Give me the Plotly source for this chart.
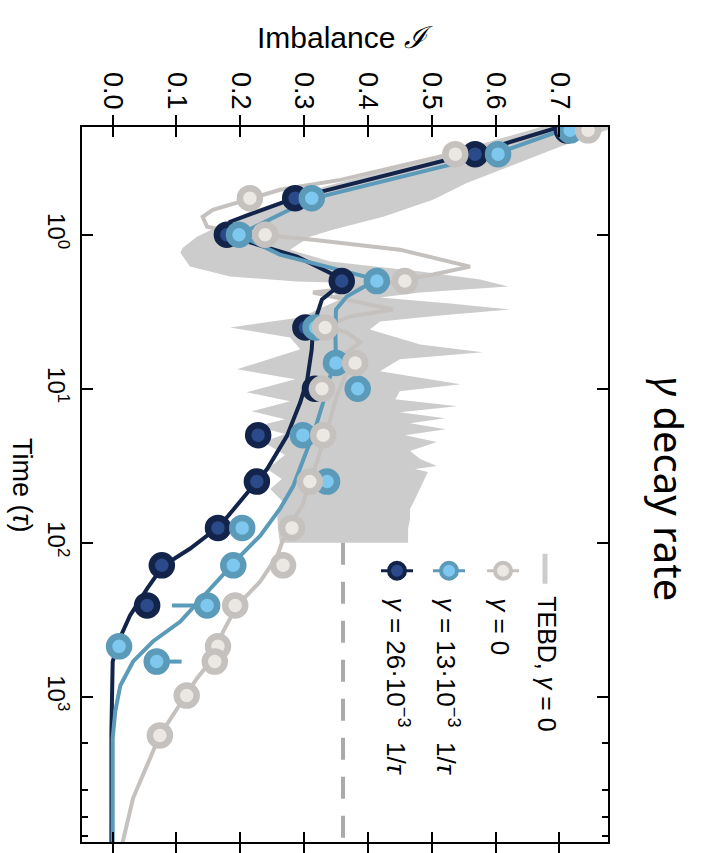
import plotly.graph_objects as go

# ---------------- data ----------------
# experimental points
gray_t = [0.21, 0.3, 0.58, 1.0, 2.0, 4.0, 6.8, 10, 20, 40, 80, 140, 255, 470, 590, 980, 1780]
gray_I = [0.745, 0.537, 0.215, 0.239, 0.458, 0.333, 0.380, 0.328, 0.330, 0.309, 0.281, 0.267, 0.192, 0.165, 0.160, 0.116, 0.074]

blue_t = [0.21, 0.3, 0.58, 1.0, 2.0, 4.0, 6.8, 10, 20, 40, 80, 140, 255, 470, 590]
blue_I = [0.717, 0.604, 0.312, 0.198, 0.414, 0.318, 0.350, 0.384, 0.298, 0.336, 0.203, 0.189, 0.148, 0.010, 0.069]
blue_err_plus = [0, 0, 0, 0, 0, 0, 0, 0, 0, 0, 0, 0, 0, 0, 0.039]
blue_err_minus = [0, 0, 0, 0, 0, 0, 0, 0, 0, 0, 0, 0, 0.055, 0, 0]

navy_t = [0.21, 0.3, 0.58, 1.0, 2.0, 4.0, 10, 20, 40, 80, 140, 255]
navy_I = [0.712, 0.568, 0.286, 0.179, 0.359, 0.302, 0.317, 0.228, 0.226, 0.165, 0.077, 0.054]

# model curves
navy_line_t = [0.2, 0.294, 0.585, 0.824, 1.0, 1.388, 1.87, 2.107, 2.634, 3.94, 5.55, 8.68, 12.23, 20.3,
               33.2, 57.6, 77.6, 109.3, 140.9, 198.6, 296.7, 418, 589, 978, 1672, 9000]
navy_line_I = [0.700, 0.568, 0.282, 0.184, 0.175, 0.289, 0.352, 0.357, 0.328, 0.314, 0.312, 0.305, 0.294, 0.273,
               0.242, 0.195, 0.168, 0.121, 0.079, 0.054, 0.027, 0.011, 0.0, -0.001, -0.002, -0.002]

blue_line_t = [0.2, 0.2945, 0.585, 1.0, 1.347, 1.762, 1.956, 2.52, 3.06, 4.31, 6.74, 9.08, 12.23, 18.3, 29.9,
               42.8, 60.3, 90.1, 121.4, 207.5, 324.6, 437, 589, 843, 1242, 1857, 9000]
blue_line_I = [0.718, 0.604, 0.312, 0.198, 0.262, 0.372, 0.414, 0.367, 0.350, 0.349, 0.350, 0.337, 0.330, 0.317, 0.298,
               0.283, 0.262, 0.231, 0.200, 0.148, 0.106, 0.063, 0.032, 0.012, 0.004, 0.0, 0.0]

gray_line_t = [0.2, 0.2945, 0.4406, 0.511, 0.585, 0.689, 0.765, 0.888, 0.956, 1.0, 1.077, 1.251, 1.611, 1.815,
               1.956, 2.17, 2.373, 3.06, 3.395, 3.94, 4.31, 5.0, 5.80, 6.74, 7.82, 11.18, 15.75, 20.3, 29.9,
               40.3, 57.6, 81.2, 121.4, 178.8, 255.7, 376.8, 563, 759, 1135, 1775, 2775, 4538, 9000]
gray_line_I = [0.745, 0.537, 0.357, 0.262, 0.215, 0.157, 0.141, 0.148, 0.184, 0.239, 0.314, 0.450, 0.560, 0.502,
               0.458, 0.398, 0.314, 0.439, 0.372, 0.333, 0.367, 0.388, 0.367, 0.380, 0.367, 0.351, 0.341, 0.333, 0.320,
               0.309, 0.297, 0.273, 0.258, 0.231, 0.195, 0.173, 0.157, 0.132, 0.105, 0.074, 0.054, 0.032, 0.015]

# TEBD (gamma = 0) band: upper and lower envelope
tebd_up_t = [0.19, 0.209, 0.269, 0.352, 0.461, 0.593, 0.765, 0.928, 1.030, 1.251, 1.495, 1.736, 1.956, 2.171,
             2.373, 2.557, 2.797, 3.058, 3.344, 3.657, 4.121, 5.152, 5.804, 6.444, 7.704, 9.352, 10.38, 11.70,
             12.98, 14.20, 15.52, 16.72, 18.29, 20.00, 22.20, 25.39, 28.60, 31.74, 33.19, 34.71, 38.53, 44.73,
             51.90, 60.26, 69.95, 81.18, 94.21, 100.0]
tebd_up_I = [0.80, 0.775, 0.701, 0.628, 0.555, 0.502, 0.424, 0.345, 0.309, 0.278, 0.341, 0.482, 0.576, 0.620,
             0.482, 0.419, 0.529, 0.623, 0.513, 0.419, 0.403, 0.482, 0.580, 0.450, 0.419, 0.545, 0.450, 0.443,
             0.540, 0.450, 0.521, 0.466, 0.522, 0.458, 0.508, 0.466, 0.482, 0.508, 0.474, 0.494, 0.489, 0.482,
             0.474, 0.466, 0.466, 0.463, 0.463, 0.463]
tebd_lo_t = [0.19, 0.282, 0.391, 0.511, 0.720, 1.030, 1.214, 1.307, 1.611, 1.870, 2.015, 2.045, 2.270, 2.634,
             3.445, 4.000, 4.642, 5.551, 7.478, 8.680, 10.54, 12.05, 13.99, 15.75, 17.49, 19.70, 22.20, 26.94,
             33.19, 38.53, 44.73, 55.92, 66.88, 81.18, 100.0]
tebd_lo_I = [0.69, 0.545, 0.419, 0.314, 0.210, 0.132, 0.110, 0.106, 0.121, 0.184, 0.289, 0.345, 0.341, 0.356,
             0.294, 0.184, 0.278, 0.294, 0.195, 0.286, 0.210, 0.278, 0.218, 0.270, 0.226, 0.270, 0.236, 0.270,
             0.242, 0.265, 0.247, 0.270, 0.258, 0.259, 0.262]

tebd_avg_I = 0.361
tebd_avg_t = [100, 9000]

x_ticks = [0.0, 0.1, 0.2, 0.3, 0.4, 0.5, 0.6, 0.7]
y_ticks = [1, 10, 100, 1000]
y_ticktext = ["10<sup>0</sup>", "10<sup>1</sup>", "10<sup>2</sup>", "10<sup>3</sup>"]

# ---------------- styles ----------------
C_NAVY_LINE = "#13244a"
C_NAVY_FILL = "#2b4a8a"
C_BLUE_LINE = "#5b9ab8"
C_BLUE_FILL = "#7ec8ef"
C_GRAY_LINE = "#c5c1be"
C_GRAY_FILL = "#ebe7e3"
C_TEBD = "#cccccc"
C_DASH = "#aaaaaa"
FONT = "Liberation Sans, Arial, sans-serif"

fig = go.Figure()

# TEBD band
fig.add_trace(go.Scatter(
    x=tebd_up_I + tebd_lo_I[::-1], y=tebd_up_t + tebd_lo_t[::-1],
    mode="lines", fill="toself", fillcolor=C_TEBD, line=dict(width=0, color=C_TEBD),
    hoverinfo="skip", showlegend=False))

# TEBD long-time average
fig.add_trace(go.Scatter(
    x=[tebd_avg_I] * len(tebd_avg_t), y=tebd_avg_t, mode="lines",
    line=dict(color=C_DASH, width=4, dash="22px,17px"), showlegend=False))

# model curves
fig.add_trace(go.Scatter(x=gray_line_I, y=gray_line_t, mode="lines",
                         line=dict(color=C_GRAY_LINE, width=4), showlegend=False))
fig.add_trace(go.Scatter(x=navy_line_I, y=navy_line_t, mode="lines",
                         line=dict(color=C_NAVY_LINE, width=4), showlegend=False))
fig.add_trace(go.Scatter(x=blue_line_I, y=blue_line_t, mode="lines",
                         line=dict(color=C_BLUE_LINE, width=4), showlegend=False))

# experimental points
fig.add_trace(go.Scatter(x=navy_I, y=navy_t, mode="markers",
                         marker=dict(size=20, color=C_NAVY_FILL, line=dict(color=C_NAVY_LINE, width=6.5)),
                         showlegend=False))
fig.add_trace(go.Scatter(x=blue_I, y=blue_t, mode="markers",
                         error_x=dict(type="data", symmetric=False, array=blue_err_plus,
                                      arrayminus=blue_err_minus, color=C_BLUE_LINE, thickness=4, width=0),
                         marker=dict(size=20, color=C_BLUE_FILL, line=dict(color=C_BLUE_LINE, width=6.5)),
                         showlegend=False))
fig.add_trace(go.Scatter(x=gray_I, y=gray_t, mode="markers",
                         marker=dict(size=20, color=C_GRAY_FILL, line=dict(color=C_GRAY_LINE, width=6.5)),
                         showlegend=False))

# ---------------- layout ----------------
W, H = 714, 853
L, R, T, B = 82, 608, 127, 844


def px(xp):
    return (xp - L) / (R - L)


def py(yp):
    return (B - yp) / (B - T)


Y_RANGE = [3.942, -0.699]
fig.update_layout(
    width=W, height=H,
    margin=dict(l=L, r=W - R, t=T, b=H - B),
    paper_bgcolor="white", plot_bgcolor="white",
    font=dict(family=FONT, color="black"),
    xaxis=dict(side="top", range=[-0.0481, 0.7763], tickvals=x_ticks, tickformat=".1f",
               tickangle=90, ticks="inside", ticklen=10, tickwidth=2, tickcolor="black",
               showline=True, linecolor="black", linewidth=2, mirror="allticks",
               showgrid=False, zeroline=False, ticklabelstandoff=6,
               tickfont=dict(size=27, family=FONT)),
    yaxis=dict(type="log", range=Y_RANGE, tickvals=y_ticks, ticktext=y_ticktext,
               tickangle=90, ticks="inside", ticklen=11, tickwidth=2, tickcolor="black",
               minor=dict(ticks="inside", ticklen=6, tickwidth=1.5, tickcolor="black", showgrid=False),
               showline=True, linecolor="black", linewidth=2, mirror=True,
               showgrid=False, zeroline=False, ticklabelstandoff=3,
               tickfont=dict(size=24, family=FONT)),
    yaxis2=dict(type="log", range=Y_RANGE, overlaying="y", side="right", tickvals=y_ticks,
                showticklabels=False, ticks="inside", ticklen=11, tickwidth=2, tickcolor="black",
                minor=dict(ticks="inside", ticklen=6, tickwidth=1.5, tickcolor="black", showgrid=False),
                showline=False, showgrid=False, zeroline=False),
)
# invisible trace to activate the right-hand mirrored log axis
fig.add_trace(go.Scatter(x=[None], y=[None], yaxis="y2", showlegend=False, hoverinfo="skip"))

annotations = [
    dict(text="Imbalance <i>ℐ</i>", x=px(345), y=py(37), yanchor="middle", font=dict(size=30, family=FONT)),
    dict(text="Time (<i>τ</i>)", x=px(22), y=py(486), yanchor="middle", textangle=90,
         font=dict(size=27, family=FONT)),
    dict(text="<i>γ</i> decay rate", x=px(669), y=py(490), yanchor="middle", textangle=90,
         font=dict(size=40, family="Noto Sans, Open Sans, sans-serif")),
    dict(text="TEBD, <i>γ</i> = 0", x=px(547), y=py(595), yanchor="top", textangle=90,
         font=dict(size=25, family=FONT)),
    dict(text="<i>γ</i> = 0", x=px(500), y=py(597), yanchor="top", textangle=90,
         font=dict(size=26, family=FONT)),
    dict(text="<i>γ</i> = 13·10<sup>−3</sup>  1/<i>τ</i>", x=px(447), y=py(597), yanchor="top", textangle=90,
         font=dict(size=26, family=FONT)),
    dict(text="<i>γ</i> = 26·10<sup>−3</sup>  1/<i>τ</i>", x=px(397), y=py(597), yanchor="top", textangle=90,
         font=dict(size=26, family=FONT)),
]
for a in annotations:
    a.update(xref="paper", yref="paper", showarrow=False, xanchor="center")
fig.update_layout(annotations=annotations)

# legend symbols
shapes = [dict(type="line", xref="paper", yref="paper", x0=px(545), x1=px(545), y0=py(555), y1=py(585),
               line=dict(color=C_TEBD, width=5))]
for xc, lc, fc in [(503, C_GRAY_LINE, C_GRAY_FILL), (449, C_BLUE_LINE, C_BLUE_FILL), (397, C_NAVY_LINE, C_NAVY_FILL)]:
    shapes.append(dict(type="line", xref="paper", yref="paper", x0=px(xc - 16), x1=px(xc + 16),
                       y0=py(572), y1=py(572), line=dict(color=lc, width=3)))
    shapes.append(dict(type="circle", xref="paper", yref="paper", xsizemode="pixel", ysizemode="pixel",
                       xanchor=px(xc), yanchor=py(572), x0=-8, x1=8, y0=-8, y1=8,
                       fillcolor=fc, line=dict(color=lc, width=4)))
fig.update_layout(shapes=shapes)

fig.write_html("out.html")
